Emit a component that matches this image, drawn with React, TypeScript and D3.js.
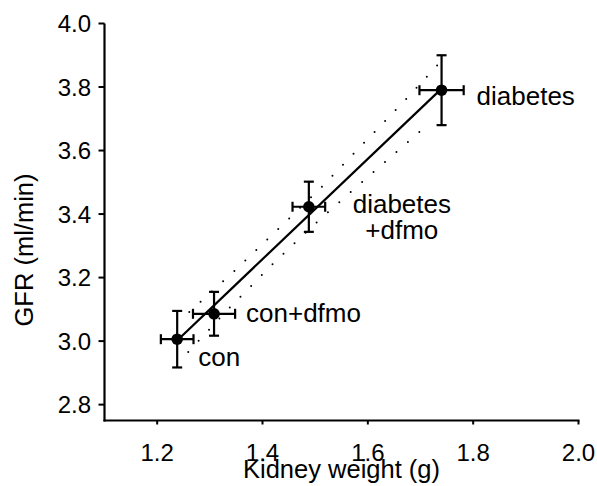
import React from "react";
import * as d3 from "d3";

// ---- data ----
const groups = ["con", "con+dfmo", "diabetes\n+dfmo", "diabetes"];
const kidneyWeight = [1.238, 1.308, 1.488, 1.740];
const kidneyWeightErr = [0.031, 0.040, 0.031, 0.042];
const gfr = [3.006, 3.086, 3.423, 3.790];
const gfrErr = [0.089, 0.069, 0.079, 0.110];

const fitX = [1.238, 1.740];
const fitY = [3.002, 3.795];

const upperBandX = [1.261, 1.345, 1.428, 1.514, 1.595, 1.675, 1.734];
const upperBandY = [3.092, 3.218, 3.350, 3.488, 3.628, 3.766, 3.872];
const lowerBandX = [1.259, 1.338, 1.422, 1.506, 1.592, 1.677, 1.718];
const lowerBandY = [2.966, 3.106, 3.247, 3.379, 3.505, 3.628, 3.688];

const xTicks = [1.2, 1.4, 1.6, 1.8, 2.0];
const yTicks = [2.8, 3.0, 3.2, 3.4, 3.6, 3.8, 4.0];
const xDomain = [1.1, 2.0];
const yDomain = [2.75, 4.0];

// label placement (pixel offsets from each point)
const labelOffsets = [
  { dx: 21, dy: 27, anchor: "start" },
  { dx: 32, dy: 8.5, anchor: "start" },
  { dx: 93, dy: 6.5, anchor: "middle" },
  { dx: 35, dy: 15, anchor: "start" },
];

const FONT = "'Liberation Sans', Arial, Helvetica, sans-serif";

export default function App() {
  const W = 597;
  const H = 486;
  const x = d3.scaleLinear().domain(xDomain).range([104.5, 578.5]);
  const y = d3.scaleLinear().domain(yDomain).range([420.5, 23.5]);

  const line = d3
    .line<[number, number]>()
    .x((d) => x(d[0]))
    .y((d) => y(d[1]));

  const fitPts: [number, number][] = fitX.map((v, i) => [v, fitY[i]]);
  const upPts: [number, number][] = upperBandX.map((v, i) => [v, upperBandY[i]]);
  const loPts: [number, number][] = lowerBandX.map((v, i) => [v, lowerBandY[i]]);

  const cap = 5;

  return (
    <svg
      width={W}
      height={H}
      style={{ position: "absolute", left: 0, top: 0, background: "#fff" }}
      fontFamily={FONT}
    >
      <rect width={W} height={H} fill="#fff" />
      {/* axes */}
      <line x1={x(xDomain[0])} x2={x(xDomain[0])} y1={y(yDomain[1])} y2={y(yDomain[0]) + 1} stroke="#000" strokeWidth={2.2} />
      <line x1={x(xDomain[0]) - 1} x2={x(xDomain[1]) + 1} y1={y(yDomain[0])} y2={y(yDomain[0])} stroke="#000" strokeWidth={2.2} />
      {yTicks.map((t) => (
        <g key={"y" + t}>
          <line x1={x(xDomain[0]) - 6} x2={x(xDomain[0])} y1={y(t)} y2={y(t)} stroke="#000" strokeWidth={2} />
          <text x={91} y={y(t)} dy="0.36em" textAnchor="end" fontSize={24} fill="#000">
            {t.toFixed(1)}
          </text>
        </g>
      ))}
      {xTicks.map((t) => (
        <g key={"x" + t}>
          <line x1={x(t)} x2={x(t)} y1={y(yDomain[0])} y2={y(yDomain[0]) + 4} stroke="#000" strokeWidth={2} />
          <text x={x(t)} y={461} textAnchor="middle" fontSize={24} fill="#000">
            {t.toFixed(1)}
          </text>
        </g>
      ))}
      <text x={341.5} y={478} textAnchor="middle" fontSize={25.5} fill="#000">
        Kidney weight (g)
      </text>
      <text
        transform={`translate(33,250) rotate(-90)`}
        textAnchor="middle"
        fontSize={25.5}
        fill="#000"
      >
        GFR (ml/min)
      </text>

      {/* confidence bands */}
      <path d={line(upPts) || ""} fill="none" stroke="#000" strokeWidth={2} strokeLinecap="round" strokeDasharray="0 15.2" />
      <path d={line(loPts) || ""} fill="none" stroke="#000" strokeWidth={2} strokeLinecap="round" strokeDasharray="0 15.2" />

      {/* fit line */}
      <path d={line(fitPts) || ""} fill="none" stroke="#000" strokeWidth={2.2} />

      {/* points with error bars */}
      {groups.map((g, i) => {
        const cx = x(kidneyWeight[i]);
        const cy = y(gfr[i]);
        const x0 = x(kidneyWeight[i] - kidneyWeightErr[i]);
        const x1 = x(kidneyWeight[i] + kidneyWeightErr[i]);
        const y0 = y(gfr[i] - gfrErr[i]);
        const y1 = y(gfr[i] + gfrErr[i]);
        const lo = labelOffsets[i];
        const lines = g.split("\n");
        return (
          <g key={g}>
            <line x1={cx} x2={cx} y1={y0} y2={y1} stroke="#000" strokeWidth={2.2} />
            <line x1={cx - cap} x2={cx + cap} y1={y0} y2={y0} stroke="#000" strokeWidth={2.2} />
            <line x1={cx - cap} x2={cx + cap} y1={y1} y2={y1} stroke="#000" strokeWidth={2.2} />
            <line x1={x0} x2={x1} y1={cy} y2={cy} stroke="#000" strokeWidth={2.2} />
            <line x1={x0} x2={x0} y1={cy - cap} y2={cy + cap} stroke="#000" strokeWidth={2.2} />
            <line x1={x1} x2={x1} y1={cy - cap} y2={cy + cap} stroke="#000" strokeWidth={2.2} />
            <circle cx={cx} cy={cy} r={5.8} fill="#000" />
            <text x={cx + lo.dx} y={cy + lo.dy} textAnchor={lo.anchor as any} fontSize={26} fill="#000">
              {lines.map((l, k) => (
                <tspan key={k} x={cx + lo.dx} dy={k === 0 ? 0 : 26}>
                  {l}
                </tspan>
              ))}
            </text>
          </g>
        );
      })}
    </svg>
  );
}
